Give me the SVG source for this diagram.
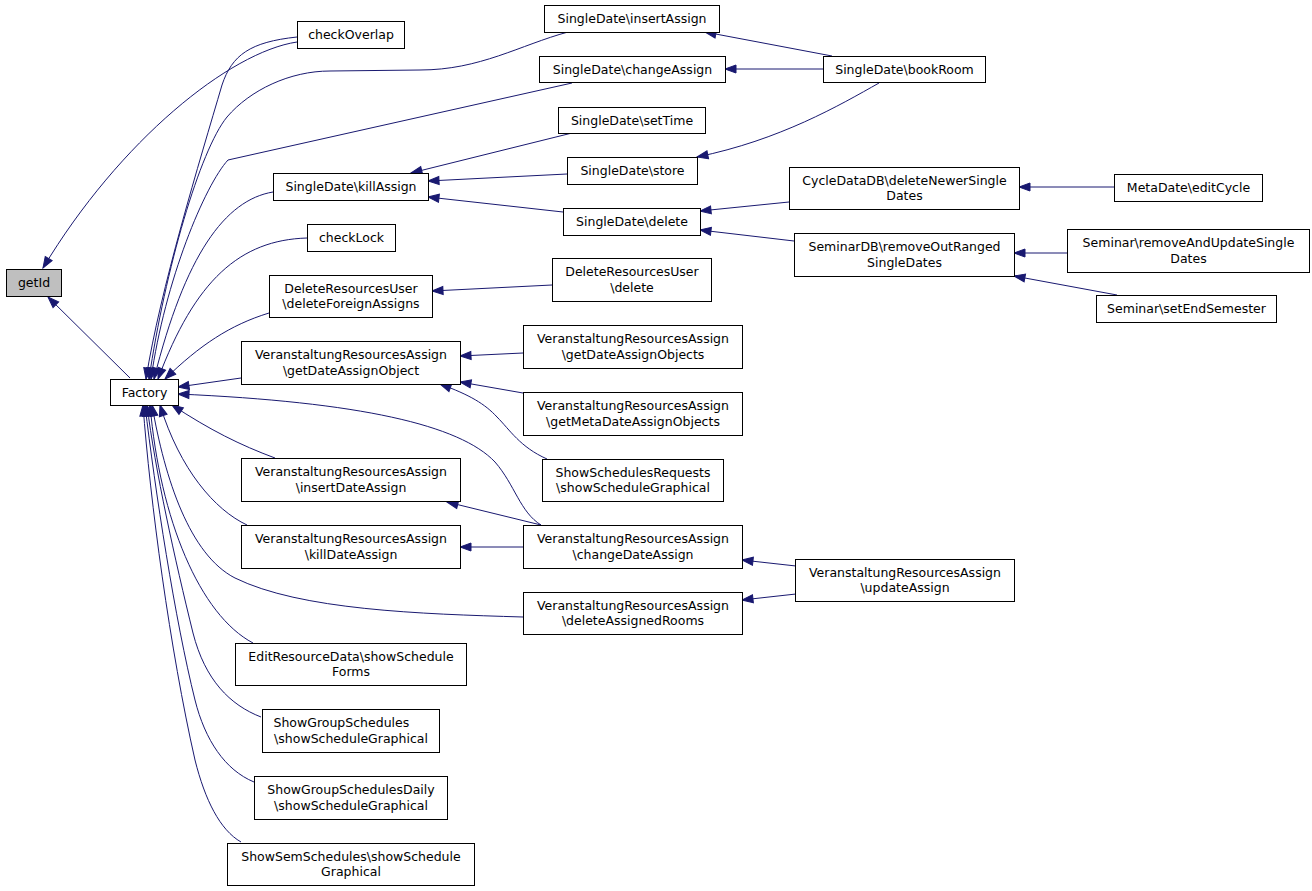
<svg xmlns="http://www.w3.org/2000/svg" width="1312" height="891" viewBox="0 0 1312 891">
<style>
.n rect{fill:#fff;stroke:#000;stroke-width:1}
.root rect{fill:#bfbfbf}
text{font-family:"DejaVu Sans",sans-serif;font-size:12.5px;fill:#000;text-anchor:middle}
.e path{fill:none;stroke:#191970;stroke-width:1;marker-end:url(#a)}
</style>
<defs>
<marker id="a" markerUnits="userSpaceOnUse" markerWidth="11" markerHeight="8" viewBox="0 0 11 8" refX="11" refY="4" orient="auto" overflow="visible"><path d="M0,0 L11,4 L0,8 z" fill="#191970" stroke="#191970" stroke-width="1"/></marker>
</defs>
<rect width="1312" height="891" fill="#fff"/>
<g id="edges" class="e">
<path d="M130,378 L48,297"/>
<path d="M297,42 C230,52 120,140 43,268"/>
<path d="M297,37 C250,42 232,55 222,85 C200,160 160,290 146,379"/>
<path d="M568,32 C520,45 480,70 420,70 L330,71 C290,71 250,90 227,117 C200,150 165,270 149,379"/>
<path d="M572,83 L228,160 C205,185 165,280 151,379"/>
<path d="M273,192 C225,200 185,255 154,379"/>
<path d="M307,238 C240,240 195,280 158,379"/>
<path d="M269,313 C230,325 200,345 165,379"/>
<path d="M241,378 L178,387"/>
<path d="M541,525 C520,512 515,485 495,462 C460,425 360,402 178,394"/>
<path d="M275,458 C240,445 210,430 172,405"/>
<path d="M247,525 C215,510 180,470 160,405"/>
<path d="M523,617 C420,614 300,610 235,578 C190,555 165,480 152,405"/>
<path d="M253,643 C200,615 160,520 150,405"/>
<path d="M261,717 C230,705 205,680 193,633 C175,560 155,470 147,405"/>
<path d="M254,782 C225,770 205,740 195,700 C175,620 155,490 145,405"/>
<path d="M241,842 C220,830 205,800 195,760 C170,650 150,500 143,405"/>
<path d="M832,56 L705,32"/>
<path d="M823,69 L725,69"/>
<path d="M879,83 C840,105 780,140 697,157"/>
<path d="M572,133 L411,173"/>
<path d="M567,174 L428,181"/>
<path d="M563,212 L428,197"/>
<path d="M789,202 L700,211"/>
<path d="M794,241 L700,230"/>
<path d="M1114,187 L1019,187"/>
<path d="M1067,253 L1014,253"/>
<path d="M1117,295 L1014,276"/>
<path d="M552,285 L432,291"/>
<path d="M523,353 L460,356"/>
<path d="M523,393 L460,382"/>
<path d="M547,459 C520,447 510,430 497,417 C485,404 470,395 440,384"/>
<path d="M541,525 L447,502"/>
<path d="M523,547 L460,547"/>
<path d="M796,566 L742,560"/>
<path d="M796,594 L742,600"/>
</g>
<g id="getId" class="n root"><rect x="6.5" y="269.5" width="55" height="27"/><text x="34" y="287">getId</text></g>
<g id="Factory" class="n"><rect x="110.5" y="379.5" width="68" height="26"/><text x="144.5" y="396.5">Factory</text></g>
<g id="checkOverlap" class="n"><rect x="297.5" y="21.5" width="107" height="27"/><text x="351" y="39">checkOverlap</text></g>
<g id="insertAssign" class="n"><rect x="544.5" y="5.5" width="175" height="27"/><text x="632" y="23">SingleDate\insertAssign</text></g>
<g id="changeAssign" class="n"><rect x="539.5" y="56.5" width="186" height="26"/><text x="632.5" y="73.5">SingleDate\changeAssign</text></g>
<g id="setTime" class="n"><rect x="558.5" y="107.5" width="147" height="26"/><text x="632" y="124.5">SingleDate\setTime</text></g>
<g id="store" class="n"><rect x="567.5" y="157.5" width="130" height="27"/><text x="632.5" y="175">SingleDate\store</text></g>
<g id="killAssign" class="n"><rect x="273.5" y="173.5" width="155" height="27"/><text x="351" y="191">SingleDate\killAssign</text></g>
<g id="delete" class="n"><rect x="563.5" y="208.5" width="137" height="27"/><text x="632" y="226">SingleDate\delete</text></g>
<g id="checkLock" class="n"><rect x="307.5" y="224.5" width="88" height="27"/><text x="351.5" y="242">checkLock</text></g>
<g id="deleteForeignAssigns" class="n"><rect x="269.5" y="275.5" width="163" height="42"/><text x="351" y="292.5">DeleteResourcesUser</text><text x="351" y="308">\deleteForeignAssigns</text></g>
<g id="druDelete" class="n"><rect x="552.5" y="258.5" width="159" height="43"/><text x="632" y="276">DeleteResourcesUser</text><text x="632" y="291.5">\delete</text></g>
<g id="getDateAssignObject" class="n"><rect x="241.5" y="341.5" width="219" height="43"/><text x="351" y="359">VeranstaltungResourcesAssign</text><text x="351" y="374.5">\getDateAssignObject</text></g>
<g id="getDateAssignObjects" class="n"><rect x="523.5" y="325.5" width="219" height="43"/><text x="633" y="343">VeranstaltungResourcesAssign</text><text x="633" y="358.5">\getDateAssignObjects</text></g>
<g id="getMetaDateAssignObjects" class="n"><rect x="523.5" y="392.5" width="219" height="43"/><text x="633" y="410">VeranstaltungResourcesAssign</text><text x="633" y="425.5">\getMetaDateAssignObjects</text></g>
<g id="showSchedulesRequests" class="n"><rect x="542.5" y="459.5" width="181" height="42"/><text x="633" y="476.5">ShowSchedulesRequests</text><text x="633" y="492">\showScheduleGraphical</text></g>
<g id="insertDateAssign" class="n"><rect x="241.5" y="458.5" width="219" height="43"/><text x="351" y="476">VeranstaltungResourcesAssign</text><text x="351" y="491.5">\insertDateAssign</text></g>
<g id="killDateAssign" class="n"><rect x="241.5" y="525.5" width="219" height="43"/><text x="351" y="543">VeranstaltungResourcesAssign</text><text x="351" y="558.5">\killDateAssign</text></g>
<g id="changeDateAssign" class="n"><rect x="523.5" y="525.5" width="219" height="43"/><text x="633" y="543">VeranstaltungResourcesAssign</text><text x="633" y="558.5">\changeDateAssign</text></g>
<g id="deleteAssignedRooms" class="n"><rect x="523.5" y="592.5" width="219" height="42"/><text x="633" y="609.5">VeranstaltungResourcesAssign</text><text x="633" y="625">\deleteAssignedRooms</text></g>
<g id="updateAssign" class="n"><rect x="795.5" y="559.5" width="219" height="42"/><text x="905" y="576.5">VeranstaltungResourcesAssign</text><text x="905" y="592">\updateAssign</text></g>
<g id="editResourceData" class="n"><rect x="235.5" y="643.5" width="231" height="42"/><text x="351" y="660.5">EditResourceData\showSchedule</text><text x="351" y="676">Forms</text></g>
<g id="showGroupSchedules" class="n"><rect x="262.5" y="709.5" width="177" height="43"/><text x="273.5" y="727" style="text-anchor:start">ShowGroupSchedules</text><text x="351" y="742.5">\showScheduleGraphical</text></g>
<g id="showGroupSchedulesDaily" class="n"><rect x="254.5" y="776.5" width="193" height="43"/><text x="351" y="794">ShowGroupSchedulesDaily</text><text x="351" y="809.5">\showScheduleGraphical</text></g>
<g id="showSemSchedules" class="n"><rect x="227.5" y="843.5" width="247" height="42"/><text x="351" y="860.5">ShowSemSchedules\showSchedule</text><text x="351" y="876">Graphical</text></g>
<g id="bookRoom" class="n"><rect x="823.5" y="56.5" width="162" height="26"/><text x="904.5" y="73.5">SingleDate\bookRoom</text></g>
<g id="deleteNewerSingleDates" class="n"><rect x="789.5" y="167.5" width="230" height="42"/><text x="904.5" y="184.5">CycleDataDB\deleteNewerSingle</text><text x="904.5" y="200">Dates</text></g>
<g id="removeOutRangedSingleDates" class="n"><rect x="794.5" y="233.5" width="220" height="43"/><text x="904.5" y="251">SeminarDB\removeOutRanged</text><text x="904.5" y="266.5">SingleDates</text></g>
<g id="editCycle" class="n"><rect x="1114.5" y="174.5" width="148" height="27"/><text x="1188.5" y="192">MetaDate\editCycle</text></g>
<g id="removeAndUpdateSingleDates" class="n"><rect x="1067.5" y="229.5" width="242" height="43"/><text x="1188.5" y="247">Seminar\removeAndUpdateSingle</text><text x="1188.5" y="262.5">Dates</text></g>
<g id="setEndSemester" class="n"><rect x="1096.5" y="295.5" width="180" height="27"/><text x="1186.5" y="313">Seminar\setEndSemester</text></g>
</svg>
